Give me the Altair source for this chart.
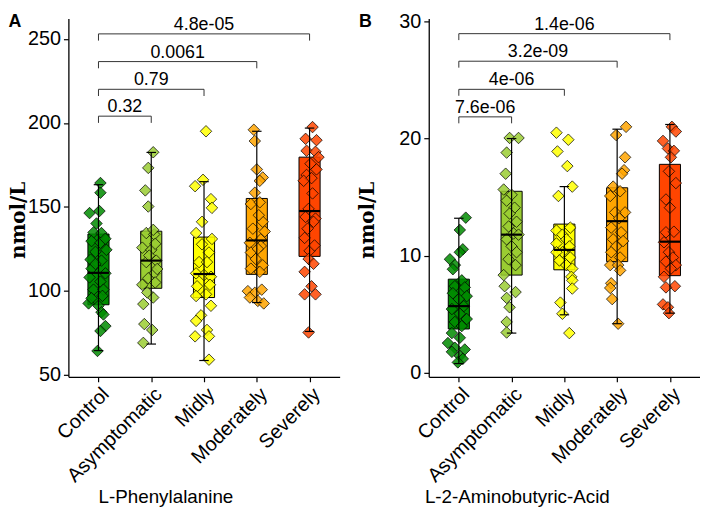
import altair as alt
import pandas as pd

groups = ["Control", "Asymptomatic", "Midly", "Moderately", "Severely"]
colors = ["#008B00", "#9ACD32", "#FFFF00", "#FFA500", "#FF4500"]

# ---------------- Panel A : L-Phenylalanine (nmol/L) ----------------
a_control = [164.2, 158.4, 146.3, 147.5, 140.1, 134.8, 134.4, 129.6, 128.6, 123.2,
             118.6, 118.0, 113.2, 110.4, 105.5, 100.7, 100.7, 92.5, 91.1, 87.3,
             85.9, 79.0, 76.1, 64.2, 124.4, 95.6, 131.0, 116.0, 108.0, 97.0]
a_control_j = [2, 2, -9, 1, -2, -5, 3, -7, 2, -3, -8, 3, -7, 7, 2, -5, 5, -10, 0, 3,
               5, 7, 2, -1, 8, -7, 7, -3, -9, 4]
a_asym = [182.5, 173.2, 159.8, 150.2, 134.4, 133.6, 125.7, 124.4, 118.0, 117.1,
          110.4, 107.5, 103.6, 96.0, 92.1, 80.2, 76.7, 69.0, 136.3, 128.0,
          121.0, 113.0, 105.0, 99.0]
a_asym_j = [2, -3, -6, -3, -5, 3, -9, 0, 5, -5, 3, -3, -9, 2, -8, -7, 1, -8, 2, 4,
            -2, 6, 4, -4]
a_mid = [195.0, 162.3, 166.1, 154.6, 149.4, 141.1, 134.4, 130.9, 127.7, 122.8,
         117.1, 117.1, 110.4, 109.4, 108.4, 102.7, 103.6, 96.9, 97.9, 91.1,
         85.4, 82.1, 76.7, 72.9, 72.9, 59.0]
a_mid_j = [2, -9, -1, 7, 8, -2, -8, 8, -2, 5, -5, 3, -8, 0, 7, -7, 6, -8, 2, 7,
           -3, -8, 3, -9, 5, 5]
a_mod = [195.9, 189.2, 172.3, 167.5, 165.5, 158.4, 151.7, 152.7, 141.1, 135.3,
         130.6, 128.6, 126.7, 122.8, 119.0, 115.2, 113.2, 111.3, 99.8, 98.8,
         100.7, 96.0, 94.0, 92.5, 145.0, 137.0, 125.0]
a_mod_j = [-3, -2, 0, 6, 3, -2, -6, 3, 6, 8, 4, -7, 4, -6, -1, 6, -6, 3, -9, -2,
           5, -7, 1, 7, 2, -4, 1]
a_sev = [197.5, 190.5, 189.7, 183.4, 182.8, 179.6, 175.7, 172.3, 169.0, 165.5,
         167.1, 148.8, 144.0, 143.0, 141.1, 131.5, 123.8, 119.0, 116.1, 111.3,
         102.7, 97.9, 97.9, 75.2, 158.0, 137.0, 127.0]
a_sev_j = [3, -4, 7, -3, 6, 9, 1, 7, -3, -6, 2, -1, -4, 6, 4, -5, 0, -1, 4, -5,
           2, -5, 6, -1, 3, -2, 5]
a_q1 = [91.7, 101.5, 96.0, 109.8, 120.5]
a_med = [110.7, 118.0, 110.0, 130.0, 147.5]
a_q3 = [133.8, 135.5, 132.0, 155.0, 179.6]
a_lo = [64.4, 68.3, 58.5, 93.0, 75.8]
a_hi = [163.2, 182.4, 165.0, 195.0, 196.9]
a_br_level = [204.0, 220.0, 236.5, 253.0]
a_br_label = ["0.32", "0.79", "0.0061", "4.8e-05"]
a_br_tip = 4.0
a_ydomain = [48.8, 262.2]
a_yticks = [50, 100, 150, 200, 250]

# ---------------- Panel B : L-2-Aminobutyric-Acid (nmol/L) ----------------
b_control = [13.25, 12.2, 10.55, 10.3, 9.7, 9.2, 8.85, 7.9, 7.4, 7.3, 6.55, 6.8,
             6.3, 5.7, 5.45, 5.05, 4.6, 4.35, 4.0, 3.4, 3.0, 2.55, 2.15, 2.0,
             1.8, 1.45, 1.2, 0.9]
b_control_j = [7, 1, 4, 1, -9, -4, -6, 3, -4, 6, 8, -6, 0, 5, -7, 1, 8, -4, 3, -7,
               1, -11, -4, 6, -7, 1, 4, -1]
b_asym = [20.05, 20.05, 18.8, 17.0, 15.65, 15.2, 14.7, 14.1, 13.6, 12.9, 12.5,
          11.9, 11.8, 11.4, 10.8, 10.3, 9.7, 9.2, 8.35, 7.4, 6.9, 6.4, 5.6,
          4.35, 3.45]
b_asym_j = [-2, 7, -5, -6, -8, 0, -5, 3, -2, 5, -3, 2, 7, -5, 0, 5, -3, 4, -8, -7,
            4, -5, -2, -5, -5]
b_mid = [20.5, 19.9, 18.9, 17.65, 15.9, 15.1, 12.4, 12.15, 11.8, 11.4, 11.05,
         10.8, 10.3, 10.3, 9.85, 9.6, 9.2, 8.9, 8.2, 7.9, 7.2, 6.0, 5.05, 3.4]
b_mid_j = [-8, 4, -7, 3, 8, -6, 6, -8, -2, 2, -8, 5, -2, -8, 6, -5, 2, 8, 7, 8,
           8, -4, -2, 5]
b_mod = [21.0, 20.3, 18.4, 17.3, 17.0, 15.9, 15.5, 15.1, 13.7, 13.7, 13.2, 12.4,
         12.0, 11.4, 11.25, 10.8, 10.3, 9.85, 9.2, 9.2, 8.75, 7.65, 7.25, 6.3, 4.2]
b_mod_j = [9, -1, 8, 7, 5, -4, 3, -7, 8, -2, 2, -6, 4, -4, 6, -1, -6, 3, -7, 1,
           3, -6, -7, -5, 1]
b_sev = [21.0, 20.6, 19.8, 19.15, 18.95, 18.4, 17.2, 16.2, 14.8, 14.1, 12.0,
         12.05, 11.15, 10.3, 9.85, 9.5, 9.2, 8.9, 8.2, 7.4, 7.3, 5.85, 5.6, 5.1]
b_sev_j = [2, 6, -7, -2, 4, 1, -1, 6, -4, 0, -4, 4, -6, -1, 3, -4, 6, 1, -6, 5,
           -4, -7, -2, -1]
b_q1 = [3.75, 8.35, 8.8, 9.5, 8.3]
b_med = [5.7, 11.8, 10.5, 12.95, 11.2]
b_q3 = [8.0, 15.5, 12.7, 15.8, 17.8]
b_lo = [0.8, 3.4, 4.96, 4.2, 5.1]
b_hi = [13.2, 20.0, 15.9, 20.8, 21.2]
b_br_level = [21.85, 24.2, 26.6, 28.95]
b_br_label = ["7.6e-06", "4e-06", "3.2e-09", "1.4e-06"]
b_br_tip = 0.55
b_ydomain = [-0.33, 30.25]
b_yticks = [0, 10, 20, 30]

SANS = "Liberation Sans"
W, H = 274, 362
XDOM = [-0.57, 4.57]
STEP = W / (XDOM[1] - XDOM[0])

cscale = alt.Scale(domain=groups, range=colors)
label_expr = "[" + ",".join("'%s'" % g for g in groups) + "][datum.value]"


def panel(vals, jits, q1, med, q3, lo, hi, br_level, br_label, tip,
          ydomain, yticks, xtitle, xtitle_x, ytitle_x, letter, letter_x):
    rows = []
    for gi, (vs, js) in enumerate(zip(vals, jits)):
        for v, j in zip(vs, js):
            rows.append({"g": groups[gi], "xi": gi + j / STEP, "v": v})
    pts = pd.DataFrame(rows)
    box = pd.DataFrame({"g": groups, "i": list(range(5)), "q1": q1, "med": med,
                        "q3": q3, "lo": lo, "hi": hi})
    br = pd.DataFrame({"i": [1, 2, 3, 4], "lvl": br_level, "lab": br_label})

    xs = alt.Scale(domain=XDOM, nice=False, zero=False)
    ys = alt.Scale(domain=ydomain, nice=False, zero=False)

    xaxis = alt.Axis(values=[0, 1, 2, 3, 4], labelExpr=label_expr, labelAngle=-45,
                     labelAlign="right", labelBaseline="top", labelFontSize=20,
                     labelFont=SANS, labelColor="black", labelPadding=2,
                     labelOverlap=False, labelBound=False,
                     tickColor="black", tickSize=5, tickWidth=1.2,
                     domainColor="black", domainWidth=1.3, grid=False,
                     title=xtitle, titleFont=SANS, titleFontSize=19,
                     titleFontWeight="normal", titleColor="black",
                     titleX=xtitle_x, titleY=121, titleAlign="center",
                     titleBaseline="middle")
    yaxis = alt.Axis(values=yticks, labelFontSize=20, labelFont=SANS,
                     labelColor="black", labelPadding=3, tickColor="black",
                     tickSize=5, tickWidth=1.2, domainColor="black",
                     domainWidth=1.3, grid=False, title="nmol/L",
                     titleFont="DejaVu Serif", titleFontSize=20,
                     titleFontWeight="bold", titleColor="black",
                     titleX=ytitle_x, titleY=208 * H / 370, titleAngle=270,
                     titleAlign="center", titleBaseline="middle")

    def X(f):
        return alt.X(f, scale=xs, axis=xaxis)

    def Y(f):
        return alt.Y(f, scale=ys, axis=yaxis)

    boxes = alt.Chart(box).transform_calculate(
        xl="datum.i - 0.2", xr="datum.i + 0.2"
    ).mark_bar(stroke="black", strokeWidth=1).encode(
        x=X("xl:Q"), x2="xr:Q", y=Y("q1:Q"), y2="q3:Q",
        color=alt.Color("g:N", scale=cscale, legend=None),
    )
    points = alt.Chart(pts).mark_point(
        shape="diamond", filled=True, size=135, stroke="black",
        strokeWidth=0.8, fillOpacity=0.85, strokeOpacity=0.9
    ).encode(
        x=X("xi:Q"), y=Y("v:Q"),
        fill=alt.Fill("g:N", scale=cscale, legend=None),
    )
    whisk = alt.Chart(box).mark_rule(color="black", strokeWidth=1.2).encode(
        x=X("i:Q"), y=Y("lo:Q"), y2="hi:Q",
    )
    capc = alt.Chart(box).transform_calculate(cl="datum.i - 0.09", cr="datum.i + 0.09")
    cap_lo = capc.mark_rule(color="black", strokeWidth=1.2).encode(
        x=X("cl:Q"), x2="cr:Q", y=Y("lo:Q"))
    cap_hi = capc.mark_rule(color="black", strokeWidth=1.2).encode(
        x=X("cl:Q"), x2="cr:Q", y=Y("hi:Q"))
    median = alt.Chart(box).transform_calculate(
        xl="datum.i - 0.2", xr="datum.i + 0.2"
    ).mark_rule(color="black", strokeWidth=2.2).encode(
        x=X("xl:Q"), x2="xr:Q", y=Y("med:Q"))

    brc = alt.Chart(br).transform_calculate(
        x0="0", lb="datum.lvl - %f" % tip, xm="datum.i / 2")
    br_h = brc.mark_rule(color="#333333", strokeWidth=1).encode(
        x=X("x0:Q"), x2="i:Q", y=Y("lvl:Q"))
    br_l = brc.mark_rule(color="#333333", strokeWidth=1).encode(
        x=X("x0:Q"), y=Y("lb:Q"), y2="lvl:Q")
    br_r = brc.mark_rule(color="#333333", strokeWidth=1).encode(
        x=X("i:Q"), y=Y("lb:Q"), y2="lvl:Q")
    br_t = brc.mark_text(font=SANS, fontSize=18, color="black",
                         baseline="alphabetic", align="center", dy=-4).encode(
        x=X("xm:Q"), y=Y("lvl:Q"), text="lab:N")

    let = alt.Chart(pd.DataFrame({"t": [letter]})).mark_text(
        font=SANS, fontSize=18, fontWeight="bold", color="black",
        align="center", baseline="middle").encode(
        x=alt.value(letter_x), y=alt.value(4), text="t:N")

    return alt.layer(boxes, points, whisk, cap_lo, cap_hi, median,
                     br_h, br_l, br_r, br_t, let).properties(width=W, height=H)


pA = panel([a_control, a_asym, a_mid, a_mod, a_sev],
           [a_control_j, a_asym_j, a_mid_j, a_mod_j, a_sev_j],
           a_q1, a_med, a_q3, a_lo, a_hi, a_br_level, a_br_label, a_br_tip,
           a_ydomain, a_yticks, "L-Phenylalanine", 98, -50, "A", -54)
pB = panel([b_control, b_asym, b_mid, b_mod, b_sev],
           [b_control_j, b_asym_j, b_mid_j, b_mod_j, b_sev_j],
           b_q1, b_med, b_q3, b_lo, b_hi, b_br_level, b_br_label, b_br_tip,
           b_ydomain, b_yticks, "L-2-Aminobutyric-Acid", 89, -62, "B", -64)

chart = alt.hconcat(pA, pB, spacing=17).properties(
    padding={"left": 0, "top": 0, "right": 0, "bottom": 0}
).configure_view(stroke=None)

chart.save("out.html", embed_options={"renderer": "svg", "actions": False})
